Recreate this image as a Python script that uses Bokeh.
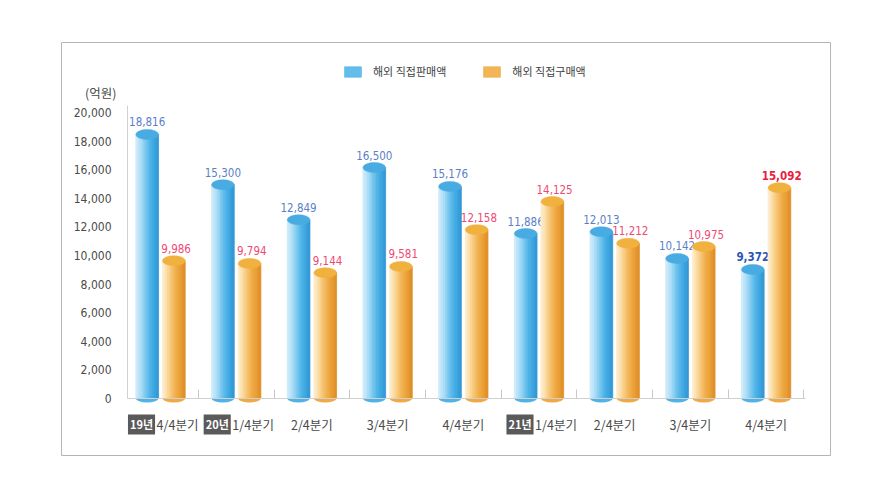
from bokeh.plotting import figure
from bokeh.models import (ColumnDataSource, Range1d, NumeralTickFormatter, FixedTicker,
                          Label, Legend, LegendItem)
from bokeh.transform import dodge
from bokeh.core.properties import value
from bokeh.embed import file_html
from bokeh.resources import INLINE

# ---------------- data ----------------
quarters = ["4/4분기", "1/4분기", "2/4분기", "3/4분기", "4/4분기",
            "1/4분기", "2/4분기", "3/4분기", "4/4분기"]
years = ["19년", "20년", "", "", "", "21년", "", "", ""]
sales = [18816, 15300, 12849, 16500, 15176, 11886, 12013, 10142, 9372]        # 해외 직접판매액
purchases = [9986, 9794, 9144, 9581, 12158, 14125, 11212, 10975, 15092]      # 해외 직접구매액
series_names = ["해외 직접판매액", "해외 직접구매액"]
y_ticks = [0, 2000, 4000, 6000, 8000, 10000, 12000, 14000, 16000, 18000, 20000]
unit_label = "(억원)"

NUM = "'DejaVu Sans Condensed', Roboto, 'Noto Sans CJK KR', sans-serif"
KR = "'Noto Sans CJK KR', sans-serif"

n = len(quarters)
xs = list(range(n))
last = n - 1
src = ColumnDataSource(dict(
    x=xs,
    sales=sales,
    purchases=purchases,
    sales_lbl=[f"{v:,}" for v in sales],
    purch_lbl=[f"{v:,}" for v in purchases],
    sales_col=["#2a55b8" if i == last else "#5b7fc7" for i in xs],
    purch_col=["#e8203c" if i == last else "#ef4a74" for i in xs],
    style=["bold" if i == last else "normal" for i in xs],
))

X0, X1 = -0.436, 8.52      # axis extent (plot area)
Y1 = 20500
# frame = outer box of the chart
p = figure(width=874, height=474, output_backend="svg", toolbar_location=None,
           x_range=Range1d(-1.308, 8.851), y_range=Range1d(-3986, 24895),
           min_border_left=61, min_border_right=44, min_border_top=42, min_border_bottom=19)
p.outline_line_color = "#b5b5b5"
p.outline_line_width = 1
p.grid.visible = False
p.background_fill_color = "white"
p.border_fill_color = "white"

# y axis drawn inside the frame
p.yaxis.fixed_location = X0
p.yaxis.bounds = (0, Y1)
p.yaxis.ticker = FixedTicker(ticks=y_ticks)
p.yaxis.formatter = NumeralTickFormatter(format="0,0")
p.yaxis.major_tick_line_color = None
p.yaxis.minor_tick_line_color = None
p.yaxis.axis_line_color = "#d0d0d0"
p.yaxis.major_label_standoff = 10
p.yaxis.major_label_text_font = NUM
p.yaxis.major_label_text_font_size = "12px"
p.yaxis.major_label_text_color = "#4a4a4a"

# x axis: baseline with separator ticks only
p.xaxis.fixed_location = 0
p.xaxis.bounds = (X0, X1)
p.xaxis.ticker = FixedTicker(ticks=[i + 0.5 for i in xs])
p.xaxis.major_label_text_color = None
p.xaxis.major_label_text_font_size = "1px"
p.xaxis.major_tick_in = 9
p.xaxis.major_tick_out = 0
p.xaxis.major_tick_line_color = "#c8c8c8"
p.xaxis.minor_tick_line_color = None
p.xaxis.axis_line_color = "#d0d0d0"

bar_w = 0.30
half_px = 350  # half height of the top ellipse, in data units (~5px)
series = [
    dict(field="sales", lbl="sales_lbl", col="sales_col", off=-0.176,
         grad=["#cdebfa", "#bde4f8", "#a9dcf6", "#92d2f3", "#79c7ef",
               "#62bdeb", "#4fb3e7", "#43abe3", "#3aa3de", "#3499d6"],
         top="#48ace3", lbl_dx=0),
    dict(field="purchases", lbl="purch_lbl", col="purch_col", off=0.176,
         grad=["#fdeccb", "#fce3b5", "#fad79b", "#f8cb80", "#f5bf68",
               "#f2b455", "#efaa45", "#eba23a", "#e79a31", "#e0902a"],
         top="#f1b13e", lbl_dx=0.03),
]

legend_renderers = []
for s in series:
    N = len(s["grad"])
    sw = bar_w / N
    # rounded bottom
    p.ellipse(x=dodge("x", s["off"], range=p.x_range), y=0,
              width=bar_w, height=8, height_units="screen",
              fill_color=s["grad"][6], line_color=None, source=src)
    mid_r = None
    for i, c in enumerate(s["grad"]):
        off = s["off"] - bar_w / 2 + (i + 0.5) * sw
        r = p.vbar(x=dodge("x", off, range=p.x_range),
                   top=dodge(s["field"], -half_px, range=p.y_range), bottom=0,
                   width=sw, fill_color=c, line_color=c, line_width=0.8, source=src)
        if i == N // 2:
            mid_r = r
    p.ellipse(x=dodge("x", s["off"], range=p.x_range),
              y=dodge(s["field"], -half_px, range=p.y_range),
              width=bar_w, height=10, height_units="screen",
              fill_color=s["top"], line_color=s["top"], line_width=0.5, source=src)
    p.text(x=dodge("x", s["off"] + s["lbl_dx"], range=p.x_range), y=s["field"], text=s["lbl"],
           text_align="center", text_baseline="bottom", y_offset=-3,
           text_font=value(NUM), text_font_size="11.5px", text_color=s["col"],
           text_font_style="style", source=src)
    legend_renderers.append(mid_r)

legend = Legend(items=[LegendItem(label=series_names[k], renderers=[legend_renderers[k]])
                       for k in range(2)],
                location=(281, 376), orientation="horizontal",
                glyph_width=21, glyph_height=13, label_standoff=10, spacing=35,
                padding=0, margin=0, border_line_color=None, background_fill_alpha=0,
                label_text_font=KR, label_text_font_size="11px", label_text_color="#3f3f3f")
p.add_layout(legend)

# x labels
for i in xs:
    if years[i]:
        p.add_layout(Label(x=i, y=0, x_offset=-19, y_offset=-26, text=years[i],
                           text_align="center", text_baseline="middle",
                           text_font=KR, text_font_size="11px", text_font_style="bold",
                           text_color="white", background_fill_color="#5a5a5a", padding=2))
        p.add_layout(Label(x=i, y=0, x_offset=17, y_offset=-26, text=quarters[i],
                           text_align="center", text_baseline="middle",
                           text_font=KR, text_font_size="12.5px", text_color="#4a4a4a"))
    else:
        p.add_layout(Label(x=i, y=0, y_offset=-26, text=quarters[i],
                           text_align="center", text_baseline="middle",
                           text_font=KR, text_font_size="12.5px", text_color="#4a4a4a"))

# unit label
p.add_layout(Label(x=X0, y=Y1, x_offset=-11, y_offset=13, text=unit_label,
                   text_align="right", text_baseline="middle",
                   text_font=KR, text_font_size="12.5px", text_color="#4a4a4a"))

open("out.html", "w").write(file_html(p, INLINE))
